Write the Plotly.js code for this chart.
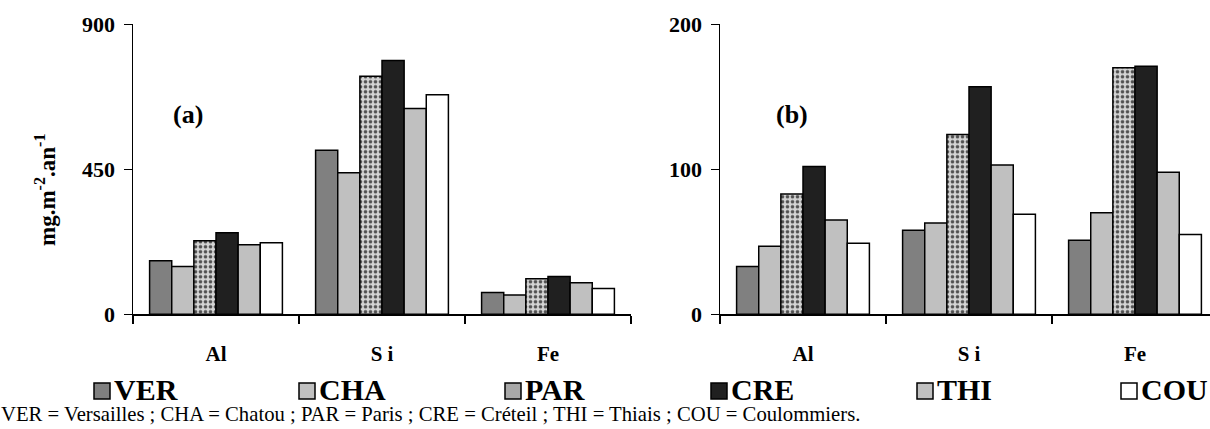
<!DOCTYPE html>
<html>
<head>
<meta charset="utf-8">
<script src="https://cdn.plot.ly/plotly-3.0.1.min.js"></script>
<style>
html,body{margin:0;padding:0;background:#fff;}
#chart{width:1210px;height:429px;}
#chart text{font-family:'Liberation Serif' !important;}
</style>
</head>
<body>
<div id="chart"></div>
<script>
// ---- data ----
const categories = ['Al', 'S i', 'Fe'];
const stations = ['VER', 'CHA', 'PAR', 'CRE', 'THI', 'COU'];
// panel (a)
const a_VER = [166, 509, 68];
const a_CHA = [148, 439, 60];
const a_PAR = [228, 739, 110];
const a_CRE = [253, 788, 117];
const a_THI = [216, 639, 98];
const a_COU = [222, 681, 80];
// panel (b)
const b_VER = [33, 58, 51];
const b_CHA = [47, 63, 70];
const b_PAR = [83, 124, 170];
const b_CRE = [102, 157, 171];
const b_THI = [65, 103, 98];
const b_COU = [49, 69, 55];
const ticksA = [0, 450, 900];
const ticksB = [0, 100, 200];
const yTitle = 'mg.m<sup>-2</sup>.an<sup>-1</sup>';
const caption = 'VER = Versailles ; CHA = Chatou ; PAR = Paris ; CRE = Créteil ; THI = Thiais ; COU = Coulommiers.';

// ---- styles ----
const W = 1210, H = 429;
const SERIF = 'Liberation Serif';
const fills = ['#808080', '#c0c0c0', '#b0b0b0', '#202020', '#c0c0c0', '#ffffff'];
const seriesA = [a_VER, a_CHA, a_PAR, a_CRE, a_THI, a_COU];
const seriesB = [b_VER, b_CHA, b_PAR, b_CRE, b_THI, b_COU];

function px(x) { return x / W; }
function py(y) { return 1 - y / H; }

function makeTrace(name, vals, i, xa, ya) {
  const marker = { color: fills[i], line: { color: '#000', width: 1.5 } };
  if (name === 'PAR') {
    marker.pattern = { shape: '.', fgcolor: '#505050', bgcolor: '#d4d4d4', size: 5, solidity: 0.4 };
  }
  return { type: 'bar', name: name, x: categories, y: vals, xaxis: xa, yaxis: ya, marker: marker, showlegend: false, hoverinfo: 'skip' };
}

const traces = [];
stations.forEach((s, i) => traces.push(makeTrace(s, seriesA[i], i, 'x', 'y')));
stations.forEach((s, i) => traces.push(makeTrace(s, seriesB[i], i, 'x2', 'y2')));

const yDom = [py(314.3), py(24.3)];

const xCommon = {
  type: 'category', showline: true, linecolor: '#000', linewidth: 1.5,
  ticks: 'outside', tickson: 'boundaries', ticklen: 8, tickwidth: 1.5, tickcolor: '#000',
  showgrid: false, zeroline: false, tickfont: { family: SERIF, size: 21, weight: 'bold', color: '#000' },
  ticklabelstandoff: 20, fixedrange: true
};
const yCommon = {
  showline: true, linecolor: '#000', linewidth: 1.5, ticks: 'outside', ticklen: 8, tickwidth: 1.5, tickcolor: '#000',
  showgrid: false, zeroline: false, tickfont: { family: SERIF, size: 22, weight: 'bold', color: '#000' },
  ticklabelstandoff: 4, fixedrange: true
};

const layout = {
  width: W, height: H,
  margin: { l: 0, r: 0, t: 0, b: 0 },
  paper_bgcolor: '#fff', plot_bgcolor: 'rgba(0,0,0,0)',
  barmode: 'group', bargap: 0.2, bargroupgap: 0,
  showlegend: false,
  xaxis: Object.assign({}, xCommon, { domain: [px(133), px(631)], range: [-0.5, 2.5], anchor: 'y' }),
  yaxis: Object.assign({}, yCommon, { domain: yDom, range: [0, 900], tickvals: ticksA, anchor: 'x' }),
  xaxis2: Object.assign({}, xCommon, { domain: [px(720), 1], range: [-0.5, 2.5 - 8 / 166], anchor: 'y2' }),
  yaxis2: Object.assign({}, yCommon, { domain: yDom, range: [0, 200], tickvals: ticksB, anchor: 'x2' }),
  annotations: [],
  shapes: []
};

layout.annotations.push({
  xref: 'paper', yref: 'paper', x: px(45), y: py(190), text: yTitle, textangle: -90,
  showarrow: false, xanchor: 'center', yanchor: 'middle',
  font: { family: SERIF, size: 23, weight: 'bold', color: '#000' }
});
layout.annotations.push({ xref: 'paper', yref: 'paper', x: px(188), y: py(114), text: '(a)', showarrow: false,
  xanchor: 'center', yanchor: 'middle', font: { family: SERIF, size: 26, weight: 'bold', color: '#000' } });
layout.annotations.push({ xref: 'paper', yref: 'paper', x: px(792), y: py(114), text: '(b)', showarrow: false,
  xanchor: 'center', yanchor: 'middle', font: { family: SERIF, size: 26, weight: 'bold', color: '#000' } });

const legendX = [94, 299, 505, 711, 917, 1121];
const legendFills = ['#808080', '#c0c0c0', '#a8a8a8', '#202020', '#c0c0c0', '#ffffff'];
stations.forEach((s, i) => {
  const x0 = legendX[i];
  layout.shapes.push({ type: 'rect', xref: 'paper', yref: 'paper', x0: px(x0), x1: px(x0 + 16), y0: py(399), y1: py(383),
    fillcolor: legendFills[i], line: { color: '#000', width: 1.5 } });
  layout.annotations.push({ xref: 'paper', yref: 'paper', x: px(x0 + 19), y: py(389), text: s, showarrow: false,
    xanchor: 'left', yanchor: 'middle', borderpad: 0, font: { family: SERIF, size: 30, weight: 'bold', color: '#000' } });
});
layout.annotations.push({ xref: 'paper', yref: 'paper', x: px(0), y: py(414), text: caption, showarrow: false,
  xanchor: 'left', yanchor: 'middle', borderpad: 0, font: { family: SERIF, size: 20.7, color: '#000' } });

Plotly.newPlot('chart', traces, layout, { staticPlot: true, displayModeBar: false });
</script>
</body>
</html>
